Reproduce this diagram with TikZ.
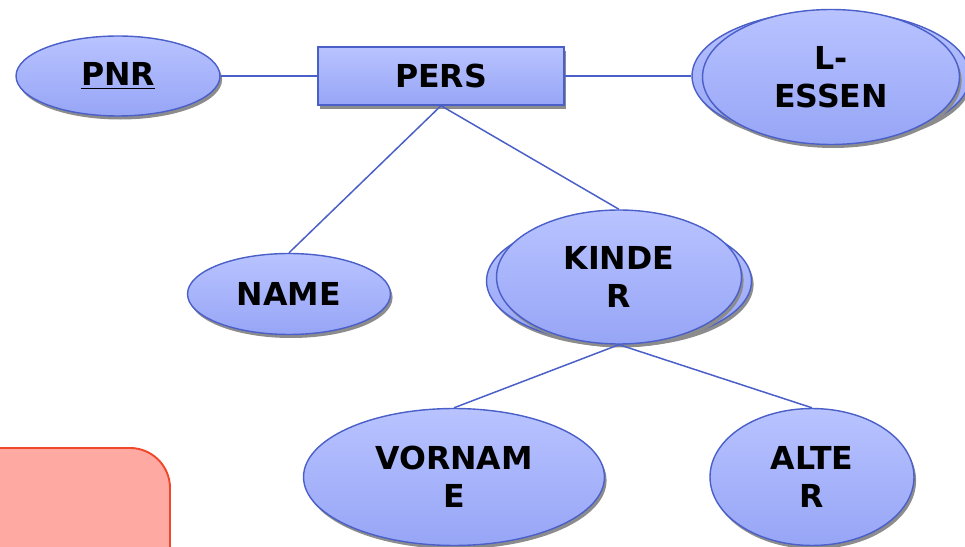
\documentclass[tikz,border=0pt]{standalone}
\usepackage{fontspec}
\setmainfont{DejaVu Sans}
\usetikzlibrary{shapes.geometric,shadows}
\tikzset{
    attr/.style={ellipse,draw=lblue,line width=0.8pt,inner sep=0pt,top color=ltop,bottom color=lbot,
        drop shadow={shadow xshift=1.2pt,shadow yshift=-2pt,fill=black!45,opacity=1},
        font=\fontsize{18}{21.5}\selectfont\bfseries,align=center},
    ent/.style={rectangle,draw=lblue,line width=0.8pt,inner sep=0pt,top color=ltop,bottom color=lbot,
        drop shadow={shadow xshift=1.2pt,shadow yshift=-2pt,fill=black!45,opacity=1},
        font=\fontsize{18}{21.5}\selectfont\bfseries},
    multiback/.style={ellipse,draw=lblue,line width=0.8pt,inner sep=0pt,top color=ltop,bottom color=lbot,
        drop shadow={shadow xshift=1.2pt,shadow yshift=-2pt,fill=black!45,opacity=1}},
    conn/.style={lblue,line width=0.85pt}
}
\begin{document}
\begin{tikzpicture}[x=0.02cm,y=-0.02cm]
        %colores
        \definecolor{lblue}{HTML}{4A5FC8}
        \definecolor{ltop}{HTML}{B8C3FF}
        \definecolor{lbot}{HTML}{97A5F6}
        \definecolor{rfill}{HTML}{FFA9A3}
        \definecolor{rline}{HTML}{F0482A}

        \useasboundingbox (0,0) rectangle (965,547);
        \clip (0,0) rectangle (965,547);

        % Kasten unten links
        \draw[rline,fill=rfill,line width=1.1pt,rounded corners=0.8cm] (-40,448) rectangle (170,620);

        % Entitaet
        \node[ent,minimum width=4.92cm,minimum height=1.16cm] (pers) at (441,76) {PERS};

        % Attribute
        \node[attr,minimum width=4.08cm,minimum height=1.6cm] (pnr) at (118,76) {\underline{PNR}};
        \node[attr,minimum width=4.06cm,minimum height=1.62cm] (name) at (289,294) {NAME};
        \node[attr,minimum width=6.02cm,minimum height=2.74cm] (vorname) at (454,477) {VORNAM\\E};
        \node[attr,minimum width=4.08cm,minimum height=2.74cm] (alter) at (812,477) {ALTE\\R};

        % mehrwertige Attribute
        \node[multiback,minimum width=5.56cm,minimum height=2.6cm] (lessenback) at (831,76) {};
        \node[attr,minimum width=5.14cm,minimum height=2.7cm] (lessen) at (831,77) {L-\\ESSEN};
        \node[multiback,minimum width=5.3cm,minimum height=2.5cm] (kinderback) at (619,281) {};
        \node[attr,minimum width=4.9cm,minimum height=2.68cm] (kinder) at (619,277) {KINDE\\R};

        % Verbindungen
        \draw[conn] (pnr.east) -- (pers.west);
        \draw[conn] (pers.east) -- (lessenback.west);
        \draw[conn] (pers.south) -- (name.north);
        \draw[conn] (pers.south) -- (kinder.north);
        \draw[conn] (kinder.south) -- (vorname.north);
        \draw[conn] (kinder.south) -- (alter.north);
    \end{tikzpicture}
\end{document}
